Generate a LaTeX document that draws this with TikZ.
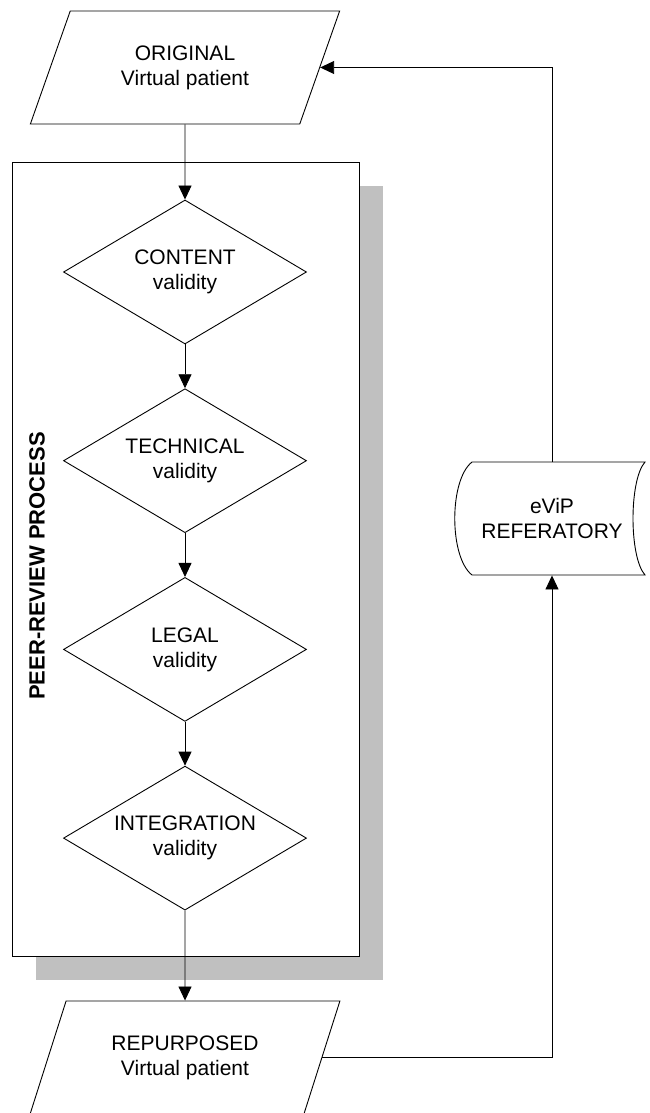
\documentclass[tikz,border=0pt]{standalone}
\usepackage{fontspec}
\setmainfont{Liberation Sans}
\usetikzlibrary{shapes.geometric, shadows, arrows.meta}
\definecolor{shadowgray}{HTML}{C0C0C0}

\tikzset{
  every node/.style={font=\fontsize{21}{25}\selectfont, align=center, inner sep=0pt},
  io/.style={draw, trapezium, trapezium left angle=63.2, trapezium right angle=116.8,
    trapezium stretches=true, minimum width=310pt, minimum height=113pt},
  check/.style={draw, diamond, aspect=1.69, minimum width=243pt, minimum height=144pt},
  panel/.style={draw, fill=white, minimum width=347pt, minimum height=794pt,
    drop shadow={shadow xshift=24pt, shadow yshift=-24pt, fill=shadowgray, opacity=1}},
}

\begin{document}
\begin{tikzpicture}[x=1pt, y=-1pt, >={Triangle[length=14pt, width=13pt]}, line width=0.9pt]
\useasboundingbox (0,0) rectangle (650,1113);

% peer review box
\node [panel] (review) at (185.5,559) {};
\node [rotate=90, font=\fontsize{22}{26}\selectfont\bfseries] (review-label) at (37,566) {PEER-REVIEW PROCESS};

% input and output
\node [io] (original) at (185,67.5) {ORIGINAL\\Virtual patient};
\node [io] (repurposed) at (185,1057.5) {REPURPOSED\\Virtual patient};

% validity checks
\foreach \m/\l [count=\i] in {content/CONTENT, technical/TECHNICAL, legal/LEGAL, integration/INTEGRATION}
  \node [check] (\m) at (185, 272+188.7*\i-188.7) {\l\\validity};

% stored data
\node [minimum width=173pt, minimum height=113pt] (store) at (552,518.5) {eViP\\REFERATORY};
\draw (472,462) -- (645,462) .. controls (629,480) and (629,557) .. (645,575)
  -- (472,575) .. controls (449,557) and (449,480) .. (472,462) -- cycle;

\foreach \a/\b in {original/content, content/technical, technical/legal, legal/integration, integration/repurposed}
  \draw [->] (\a) -- (\b);

\draw [->] (repurposed) -| (store.south);
\draw [->] (store.north) |- (original);
\end{tikzpicture}
\end{document}
